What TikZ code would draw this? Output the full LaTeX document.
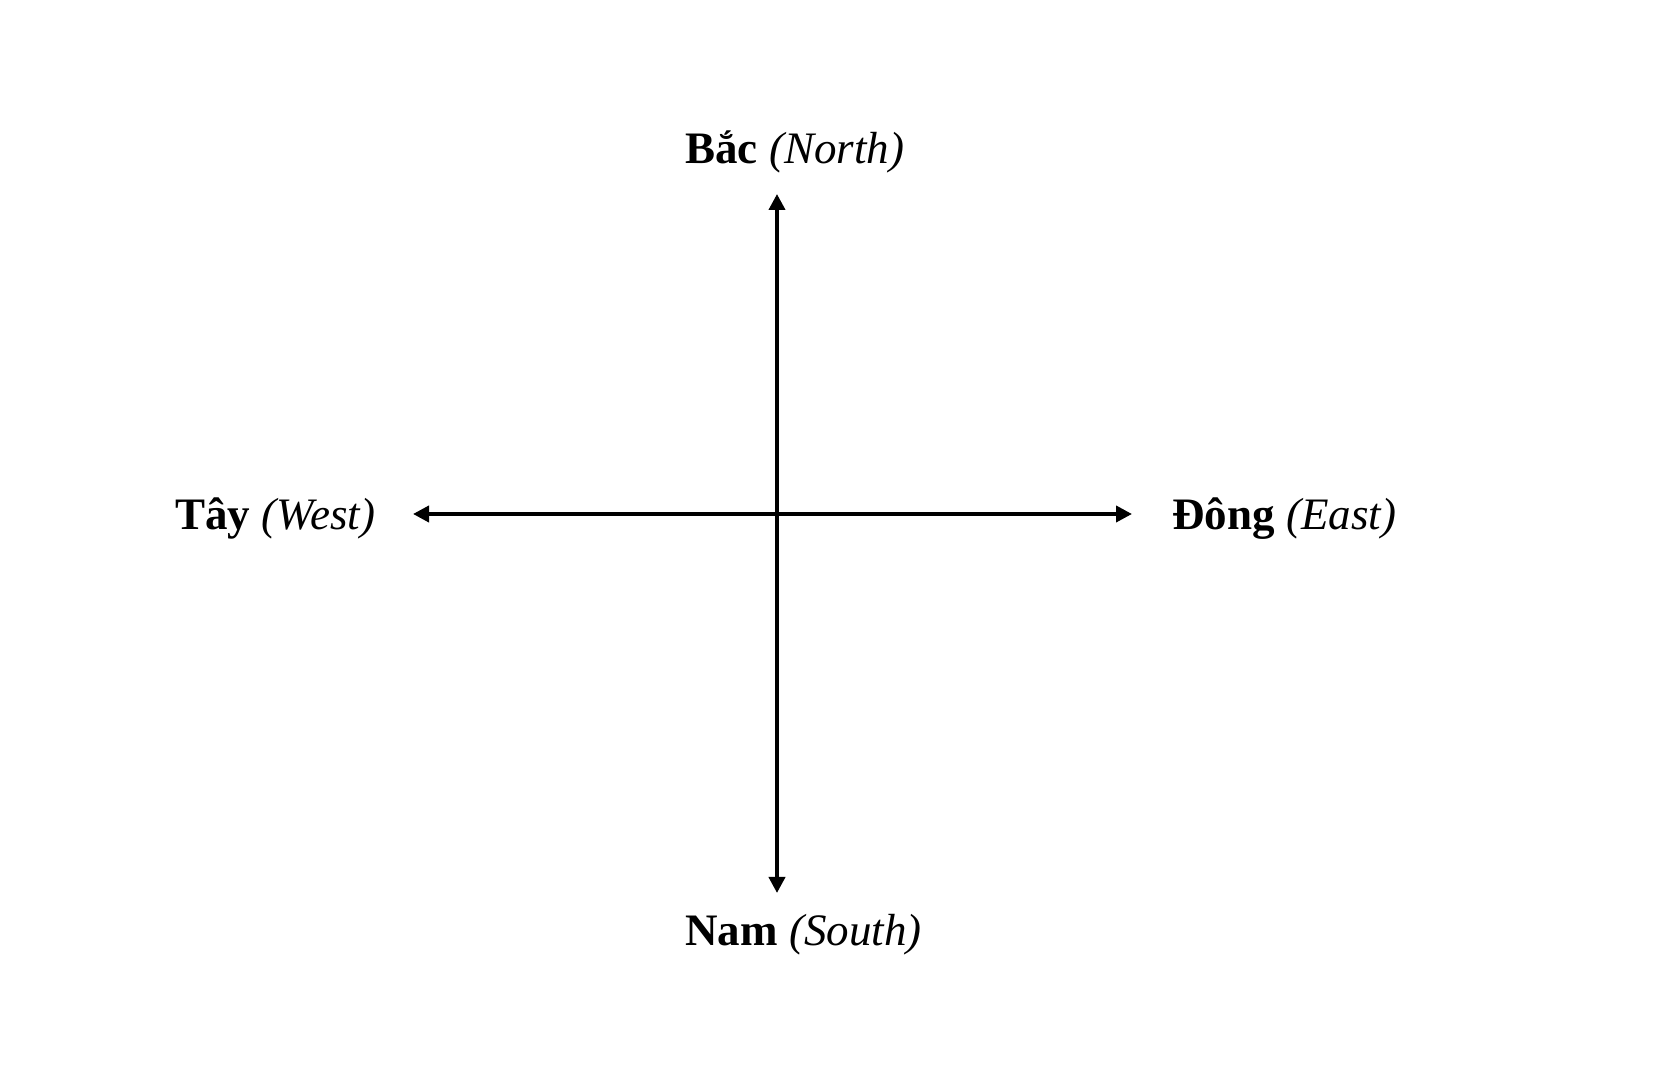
\documentclass[tikz,border=0pt]{standalone}
\usepackage{fontspec}
\setmainfont{Liberation Serif}
\usetikzlibrary{arrows.meta}
\tikzset{
  axis/.style={line width=1.9pt, -{Triangle[length=8pt,width=8pt]}},
  dirlabel/.style={inner sep=0pt, font=\fontsize{22.5}{27}\selectfont}
}
\begin{document}
\begin{tikzpicture}[x=0.5pt,y=-0.5pt]
\useasboundingbox[fill=white] (0,0) rectangle (1672,1068);
\coordinate (c) at (777,514);
\coordinate (n) at (777,194);
\coordinate (s) at (777,893);
\coordinate (w) at (413,514);
\coordinate (e) at (1132,514);
\draw[axis] (c) -- (n);
\draw[axis] (c) -- (s);
\draw[axis] (c) -- (w);
\draw[axis] (c) -- (e);
\node[dirlabel, anchor=base west] (north) at (685,164) {\textbf{Bắc} \textit{(North)}};
\node[dirlabel, anchor=base west] (south) at (685,946) {\textbf{Nam} \textit{(South)}};
\node[dirlabel, anchor=base west] (west) at (175,530) {\textbf{Tây} \textit{(West)}};
\node[dirlabel, anchor=base west] (east) at (1172,530) {\textbf{Đông} \textit{(East)}};
\end{tikzpicture}
\end{document}
